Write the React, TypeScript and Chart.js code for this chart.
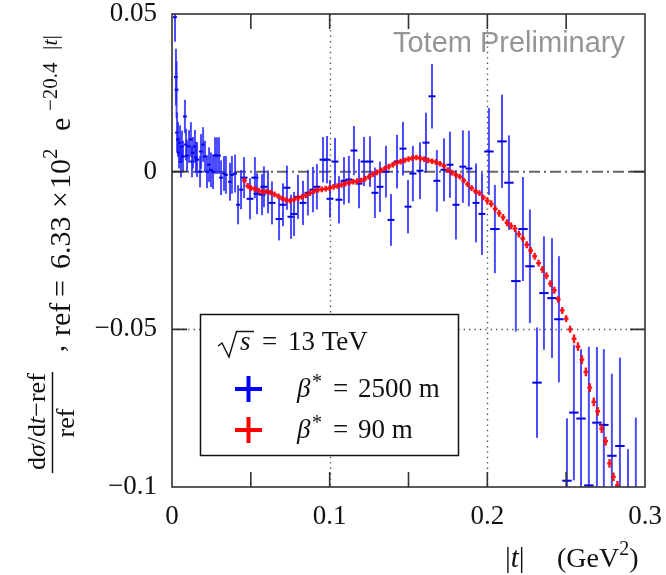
import React, { useEffect, useRef } from 'react';
import { Chart, registerables } from 'chart.js';
Chart.register(...registerables);

// ---- data: beta* = 2500 m (blue) ----
const blueT = [
  0.0019, 0.0025, 0.0029, 0.0032, 0.0038, 0.0044, 0.0051, 0.0057, 0.0063, 0.0070,
  0.0082, 0.0089, 0.0095, 0.0108, 0.0120, 0.0127, 0.0133, 0.0146, 0.0152, 0.0159,
  0.0178, 0.0184, 0.0197, 0.0209, 0.0222, 0.0235, 0.0247, 0.0260, 0.0273, 0.0285,
  0.0298, 0.0311, 0.0330, 0.0342, 0.0368, 0.0380, 0.0400, 0.0419, 0.0438, 0.0457,
  0.0495, 0.0526, 0.0539, 0.0571, 0.0583, 0.0609, 0.0634, 0.0679, 0.0704, 0.0729,
  0.0755, 0.0774, 0.0799, 0.0831, 0.0862, 0.0894, 0.0919, 0.0958, 0.0983, 0.1002,
  0.1034, 0.1059, 0.1091, 0.1122, 0.1154, 0.1186, 0.1218, 0.1256, 0.1287, 0.1319,
  0.1357, 0.1389, 0.1427, 0.1465, 0.1497, 0.1528, 0.1573, 0.1611, 0.1649, 0.1680,
  0.1725, 0.1763, 0.1801, 0.1845, 0.1883, 0.1928, 0.1966, 0.2010, 0.2048, 0.2093,
  0.2137, 0.2181, 0.2226, 0.2270, 0.2315, 0.2359, 0.2410, 0.2454, 0.2505, 0.2549,
  0.2594, 0.2644, 0.2695, 0.2739, 0.2790, 0.2841, 0.2892, 0.2942,
];
const blueV = [
  0.049, 0.030, 0.026, 0.0124, 0.0102, 0.006, 0.0092, 0.0032, 0.008, 0.0048,
  0.0175, 0.0086, 0.0051, 0.008, 0.0102, 0.0032, 0.006, 0.008, 0.0045, 0.0038,
  0.0, 0.0064, 0.0086, 0.0048, 0.0, 0.0022, 0.0006, 0.0, 0.0051, 0.0051,
  0.0051, -0.0019, -0.0006, -0.001, -0.0032, -0.001, -0.0006, -0.0105, -0.0057, -0.0019,
  -0.0086, -0.0019, -0.007, -0.0073, -0.0048, -0.0064, -0.0099, -0.015, -0.0105, -0.0051,
  -0.0143, -0.0134, -0.008, -0.0099, -0.0067, -0.0057, -0.0048, 0.0038, 0.0038, -0.0086,
  0.0032, -0.0089, -0.0029, -0.0025, 0.0067, -0.0038, 0.0032, 0.0032, -0.0067, -0.0048,
  0.0, -0.0153, 0.0032, 0.0073, -0.0111, -0.0006, 0.0003, 0.0092, 0.0239, -0.0029,
  0.0006, 0.0022, -0.0105, 0.0016, 0.001, -0.0099, -0.0134, 0.0064, -0.0182, 0.0096,
  -0.0035, -0.0347, -0.0182, -0.030, -0.0669, -0.0385, -0.0401, -0.0468, -0.098, -0.0764,
  -0.0783, -0.0995, -0.0796, -0.0803, -0.0901, -0.087, -0.118, -0.110,
];
const blueErr = [
  0.0078, 0.009, 0.009, 0.0064, 0.0055, 0.005, 0.0055, 0.005, 0.005, 0.005,
  0.0053, 0.005, 0.005, 0.0052, 0.0055, 0.005, 0.005, 0.0052, 0.005, 0.0055,
  0.005, 0.0055, 0.0055, 0.005, 0.0052, 0.0055, 0.0055, 0.0055, 0.0058, 0.0058,
  0.0058, 0.0055, 0.0055, 0.006, 0.006, 0.006, 0.006, 0.0062, 0.0062, 0.0065,
  0.0065, 0.0065, 0.0065, 0.0065, 0.0065, 0.0068, 0.0068, 0.0068, 0.0068, 0.007,
  0.007, 0.007, 0.007, 0.007, 0.0072, 0.0072, 0.0072, 0.0072, 0.0075, 0.006,
  0.0075, 0.0075, 0.0075, 0.0075, 0.0078, 0.0078, 0.0078, 0.008, 0.008, 0.008,
  0.0082, 0.0082, 0.0085, 0.0085, 0.0085, 0.0088, 0.009, 0.0095, 0.0102, 0.0098,
  0.010, 0.0105, 0.011, 0.0115, 0.012, 0.0125, 0.013, 0.0138, 0.014, 0.0148,
  0.015, 0.016, 0.0165, 0.018, 0.0175, 0.018, 0.019, 0.020, 0.0198, 0.0215,
  0.022, 0.044, 0.024, 0.024, 0.026, 0.028, 0.030, 0.032,
];
const blueTErr = [
  0.0012, 0.0012, 0.0012, 0.0012, 0.0012, 0.0012, 0.0012, 0.0012, 0.0012, 0.0012,
  0.0012, 0.0012, 0.0012, 0.0012, 0.0012, 0.0012, 0.0012, 0.0012, 0.0012, 0.0012,
  0.0012, 0.0012, 0.0012, 0.0012, 0.0012, 0.0012, 0.0012, 0.0012, 0.0012, 0.0012,
  0.0012, 0.0012, 0.0012, 0.0012, 0.0012, 0.0012, 0.0012, 0.0012, 0.0012, 0.0022,
  0.0022, 0.0022, 0.0022, 0.0022, 0.0022, 0.0022, 0.0022, 0.0022, 0.0022, 0.0022,
  0.0022, 0.0022, 0.0022, 0.0022, 0.0022, 0.0022, 0.0022, 0.0022, 0.0022, 0.0022,
  0.0022, 0.0022, 0.0022, 0.0022, 0.0022, 0.0022, 0.0022, 0.0022, 0.0022, 0.0022,
  0.0022, 0.0022, 0.0022, 0.0022, 0.0022, 0.0022, 0.0022, 0.0022, 0.0022, 0.0022,
  0.0022, 0.0022, 0.0022, 0.0022, 0.0022, 0.0022, 0.0022, 0.003, 0.003, 0.003,
  0.003, 0.003, 0.003, 0.003, 0.003, 0.003, 0.003, 0.003, 0.003, 0.003,
  0.003, 0.003, 0.003, 0.003, 0.003, 0.003, 0.003, 0.003,
];

// ---- data: beta* = 90 m (red) ----
const redT = [
  0.0460, 0.0480, 0.0500, 0.0525, 0.0550, 0.0575, 0.0600, 0.0625, 0.0650, 0.0675,
  0.0700, 0.0725, 0.0750, 0.0775, 0.0800, 0.0825, 0.0850, 0.0875, 0.0900, 0.0925,
  0.0950, 0.0975, 0.1000, 0.1025, 0.1050, 0.1075, 0.1100, 0.1125, 0.1150, 0.1175,
  0.1200, 0.1225, 0.1250, 0.1275, 0.1300, 0.1325, 0.1350, 0.1375, 0.1400, 0.1425,
  0.1450, 0.1475, 0.1500, 0.1525, 0.1550, 0.1575, 0.1600, 0.1625, 0.1650, 0.1675,
  0.1700, 0.1725, 0.1750, 0.1775, 0.1800, 0.1825, 0.1850, 0.1875, 0.1900, 0.1925,
  0.1950, 0.1975, 0.2000, 0.2025, 0.2050, 0.2075, 0.2100, 0.2125, 0.2150, 0.2175,
  0.2200, 0.2225, 0.2250, 0.2275, 0.2300, 0.2325, 0.2350, 0.2375, 0.2400, 0.2425,
  0.2450, 0.2475, 0.2500, 0.2525, 0.2550, 0.2575, 0.2600, 0.2625, 0.2650, 0.2675,
  0.2700, 0.2725, 0.2750, 0.2775, 0.2800, 0.2825,
];
const redV = [
  -0.0028, -0.0045, -0.0052, -0.0055, -0.0060, -0.0064, -0.0063, -0.0066, -0.0072, -0.0078,
  -0.0085, -0.0090, -0.0092, -0.0088, -0.0084, -0.0080, -0.0075, -0.0068, -0.0062, -0.0058,
  -0.0056, -0.0054, -0.0052, -0.0048, -0.0046, -0.0042, -0.0038, -0.0035, -0.0032, -0.0030,
  -0.0028, -0.0022, -0.0016, -0.0008, -0.0002, 0.0004, 0.0010, 0.0016, 0.0022, 0.0028,
  0.0032, 0.0036, 0.0040, 0.0043, 0.0045, 0.0042, 0.0040, 0.0036, 0.0033, 0.0030,
  0.0025, 0.0018, 0.0005, -0.0003, -0.0010, -0.0016, -0.0028, -0.0040, -0.0052, -0.0062,
  -0.0068, -0.0082, -0.0092, -0.0102, -0.0118, -0.0132, -0.0145, -0.0162, -0.0172, -0.0180,
  -0.0198, -0.0212, -0.0232, -0.0250, -0.0268, -0.0290, -0.0310, -0.0330, -0.0355, -0.0376,
  -0.0405, -0.0440, -0.0466, -0.0500, -0.0530, -0.0555, -0.0596, -0.0635, -0.0685, -0.0730,
  -0.0760, -0.0815, -0.0855, -0.0925, -0.0968, -0.0995,
];
const redErr = [
  0.0009, 0.0009, 0.0009, 0.0009, 0.0009, 0.0009, 0.0009, 0.0009, 0.0009, 0.0009,
  0.0009, 0.0009, 0.0009, 0.0009, 0.0009, 0.0009, 0.0009, 0.0009, 0.0009, 0.0009,
  0.0009, 0.0009, 0.0009, 0.0009, 0.0009, 0.0009, 0.0009, 0.0009, 0.0009, 0.0009,
  0.0009, 0.0009, 0.0009, 0.0009, 0.0009, 0.0009, 0.0009, 0.0009, 0.0009, 0.0009,
  0.0009, 0.0009, 0.0009, 0.0009, 0.0009, 0.0009, 0.0009, 0.0009, 0.0009, 0.0009,
  0.0009, 0.0009, 0.0009, 0.0009, 0.0009, 0.0009, 0.0009, 0.0009, 0.0009, 0.0009,
  0.0009, 0.0009, 0.0011, 0.0011, 0.0011, 0.0011, 0.0011, 0.0011, 0.0011, 0.0011,
  0.0011, 0.0011, 0.0011, 0.0011, 0.0011, 0.0011, 0.0011, 0.0011, 0.0011, 0.0011,
  0.0011, 0.0011, 0.0011, 0.0011, 0.0014, 0.0014, 0.0014, 0.0014, 0.0014, 0.0014,
  0.0014, 0.0014, 0.0014, 0.0014, 0.0014, 0.0014,
];
const redTErr = 0.0015;

// ---- axes ----
const xTickValues = [0, 0.1, 0.2, 0.3];
const yTickValues = [-0.1, -0.05, 0, 0.05];
const xTickMarks = [0.05, 0.1, 0.15, 0.2, 0.25];
const yTickMarks = [-0.05, 0];
const xGridValues = [0.1, 0.2];
const yGridValues = [-0.05];
const yRefValue = 0;

const legendTitle = '13 TeV';
const blueLabel = '2500 m';
const redLabel = '90 m';
const watermark = 'Totem Preliminary';

const SERIF = '"Liberation Serif", "Times New Roman", serif';
const f = (s: number) => `${s}px ${SERIF}`;
const fi = (s: number) => `italic ${s}px ${SERIF}`;

const fmt = (v: number) => {
  const r = Math.round(v * 1000) / 1000;
  if (r === 0) return '0';
  return (r < 0 ? '\u2212' : '') + String(Math.abs(r));
};

type Run = [string, string, number?];
function drawRuns(ctx: CanvasRenderingContext2D, u: number, v: number, runs: Run[]) {
  for (const [t, font, dv] of runs) {
    ctx.font = font;
    ctx.fillText(t, u, v + (dv || 0));
    u += ctx.measureText(t).width;
  }
  return u;
}

const plugin = {
  id: 'totemDecor',
  beforeDatasetsDraw(chart: any) {
    const { ctx, chartArea: a, scales } = chart;
    const x = scales.x, y = scales.y;
    ctx.save();
    ctx.strokeStyle = '#555';
    ctx.lineWidth = 1.4;
    ctx.setLineDash([1.4, 4]);
    for (const v of xGridValues) {
      const px = Math.round(x.getPixelForValue(v)) + 0.5;
      ctx.beginPath(); ctx.moveTo(px, a.top); ctx.lineTo(px, a.bottom); ctx.stroke();
    }
    for (const v of yGridValues) {
      const py = Math.round(y.getPixelForValue(v)) + 0.5;
      ctx.beginPath(); ctx.moveTo(a.left, py); ctx.lineTo(a.right, py); ctx.stroke();
    }
    ctx.strokeStyle = '#666';
    ctx.lineWidth = 2;
    ctx.setLineDash([11, 4, 2, 4]);
    const p0 = y.getPixelForValue(yRefValue);
    ctx.beginPath(); ctx.moveTo(a.left, p0); ctx.lineTo(a.right, p0); ctx.stroke();
    ctx.restore();
  },
  afterDatasetsDraw(chart: any) {
    const { ctx, chartArea: a, scales } = chart;
    const x = scales.x, y = scales.y;
    ctx.save();
    ctx.beginPath();
    ctx.rect(a.left, a.top, a.right - a.left, a.bottom - a.top);
    ctx.clip();
    // blue error bars
    const bd = chart.data.datasets[0].data;
    ctx.lineWidth = 2;
    for (const p of bd) {
      const px = x.getPixelForValue(p.x);
      const py = y.getPixelForValue(p.y);
      ctx.strokeStyle = 'rgba(30,30,255,0.8)';
      ctx.beginPath();
      ctx.moveTo(px, y.getPixelForValue(p.y + p.ey));
      ctx.lineTo(px, y.getPixelForValue(p.y - p.ey));
      ctx.stroke();
      ctx.strokeStyle = '#0000e0';
      ctx.beginPath();
      ctx.moveTo(x.getPixelForValue(p.x - p.ex), py);
      ctx.lineTo(x.getPixelForValue(p.x + p.ex), py);
      ctx.stroke();
    }
    // red error bars
    const rd = chart.data.datasets[1].data;
    ctx.strokeStyle = 'rgba(255,0,0,0.92)';
    ctx.lineWidth = 2.4;
    for (const p of rd) {
      const px = x.getPixelForValue(p.x);
      const py = y.getPixelForValue(p.y);
      ctx.beginPath();
      ctx.moveTo(px, y.getPixelForValue(p.y + p.ey));
      ctx.lineTo(px, y.getPixelForValue(p.y - p.ey));
      ctx.moveTo(x.getPixelForValue(p.x - p.ex), py);
      ctx.lineTo(x.getPixelForValue(p.x + p.ex), py);
      ctx.stroke();
    }
    ctx.restore();

    // legend box
    ctx.save();
    ctx.fillStyle = '#fff';
    ctx.fillRect(200, 314, 258, 141);
    ctx.strokeStyle = '#111';
    ctx.lineWidth = 1.5;
    ctx.strokeRect(200.5, 314.5, 258, 141);
    ctx.fillStyle = '#111';
    ctx.textBaseline = 'alphabetic';
    ctx.textAlign = 'left';
    // radical sign for sqrt(s)
    ctx.lineWidth = 1.4;
    ctx.beginPath();
    ctx.moveTo(218, 346); ctx.lineTo(222, 343); ctx.lineTo(229, 357); ctx.lineTo(236.5, 331.5); ctx.lineTo(254, 331.5);
    ctx.stroke();
    ctx.font = fi(27);
    ctx.fillText('s', 240, 350);
    ctx.font = f(27);
    ctx.fillText('=', 262, 350);
    ctx.fillText(legendTitle, 288, 350);
    // crosses
    ctx.lineWidth = 4;
    ctx.strokeStyle = '#0000ff';
    ctx.beginPath(); ctx.moveTo(235, 389); ctx.lineTo(262, 389); ctx.moveTo(248.5, 376); ctx.lineTo(248.5, 402); ctx.stroke();
    ctx.strokeStyle = '#ff0000';
    ctx.beginPath(); ctx.moveTo(235, 430); ctx.lineTo(262, 430); ctx.moveTo(248.5, 417); ctx.lineTo(248.5, 443); ctx.stroke();
    for (const [label, base] of [[blueLabel, 397], [redLabel, 438]] as [string, number][]) {
      ctx.font = fi(27); ctx.fillText('\u03B2', 297, base);
      ctx.font = f(20); ctx.fillText('*', 312, base - 9);
      ctx.font = f(27); ctx.fillText('=', 333, base);
      ctx.fillText(label, 358, base);
    }
    ctx.restore();

    // frame and ticks
    ctx.save();
    ctx.strokeStyle = '#333';
    ctx.lineWidth = 1.6;
    ctx.strokeRect(a.left, a.top, a.right - a.left, a.bottom - a.top);
    const tl = 15;
    ctx.beginPath();
    for (const v of xTickMarks) {
      const px = x.getPixelForValue(v);
      ctx.moveTo(px, a.bottom); ctx.lineTo(px, a.bottom - tl);
      ctx.moveTo(px, a.top); ctx.lineTo(px, a.top + tl);
    }
    for (const v of yTickMarks) {
      const py = y.getPixelForValue(v);
      ctx.moveTo(a.left, py); ctx.lineTo(a.left + tl, py);
      ctx.moveTo(a.right, py); ctx.lineTo(a.right - tl, py);
    }
    ctx.stroke();
    ctx.restore();

    // watermark
    ctx.save();
    ctx.fillStyle = '#959595';
    ctx.font = '29px "Liberation Sans", Arial, sans-serif';
    ctx.textAlign = 'right';
    ctx.textBaseline = 'alphabetic';
    ctx.fillText(watermark, 625, 52);
    ctx.restore();

    // x axis title
    ctx.save();
    ctx.fillStyle = '#111';
    ctx.textAlign = 'left';
    ctx.textBaseline = 'alphabetic';
    drawRuns(ctx, 505, 567, [['|', f(29)], ['t', fi(29)], ['|', f(29)]]);
    drawRuns(ctx, 557, 567, [['(GeV', f(28)], ['2', f(20), -12], [')', f(28)]]);
    ctx.restore();

    // y axis title (rotated); (u, v) -> screen (v, -u)
    ctx.save();
    ctx.fillStyle = '#111';
    ctx.strokeStyle = '#111';
    ctx.textAlign = 'left';
    ctx.textBaseline = 'alphabetic';
    ctx.rotate(-Math.PI / 2);
    drawRuns(ctx, -470, 45, [
      ['d', f(26)], ['\u03C3', fi(26)], ['/', f(26)], ['d', f(26)], ['t', fi(26)], ['\u2212', f(26)], ['ref', f(26)],
    ]);
    ctx.lineWidth = 1.5;
    ctx.beginPath(); ctx.moveTo(-473, 52.5); ctx.lineTo(-372, 52.5); ctx.stroke();
    ctx.textAlign = 'center';
    ctx.font = f(26);
    ctx.fillText('ref', -423, 74);
    ctx.textAlign = 'left';
    ctx.font = f(28);
    ctx.fillText(',', -352, 64);
    const base = 70;
    drawRuns(ctx, -336, base, [['ref', f(30)]]);
    drawRuns(ctx, -297, base, [['=', f(30)]]);
    drawRuns(ctx, -269, base, [['6.33', f(30)]]);
    drawRuns(ctx, -208, base, [['\u00D7', f(30)]]);
    drawRuns(ctx, -189, base, [['10', f(30)], ['2', f(21), -13]]);
    drawRuns(ctx, -131, base, [['e', f(30)]]);
    drawRuns(ctx, -111, base, [['\u221220.4', f(21), -13]]);
    drawRuns(ctx, -50, base, [['|', f(22), -13], ['t', fi(22), -13], ['|', f(22), -13]]);
    ctx.restore();
  },
};

export default function App() {
  const ref = useRef<HTMLCanvasElement>(null);
  useEffect(() => {
    const blue = blueT.map((t, i) => ({ x: t, y: blueV[i], ey: blueErr[i], ex: blueTErr[i] }));
    const red = redT.map((t, i) => ({ x: t, y: redV[i], ey: redErr[i], ex: redTErr }));
    const tickFont = { family: SERIF, size: 27, lineHeight: 1 };
    const chart = new Chart(ref.current as HTMLCanvasElement, {
      type: 'scatter',
      data: {
        datasets: [
          { label: '\u03B2* = 2500 m', data: blue, pointRadius: 0, showLine: false },
          { label: '\u03B2* = 90 m', data: red, pointRadius: 0, showLine: false },
        ],
      },
      options: {
        animation: false,
        responsive: false,
        devicePixelRatio: 1,
        layout: { padding: 0 },
        plugins: { legend: { display: false }, tooltip: { enabled: false } },
        scales: {
          x: {
            type: 'linear',
            min: 0,
            max: 0.3,
            afterBuildTicks: (s: any) => { s.ticks = xTickValues.map((v) => ({ value: v })); },
            afterFit: (s: any) => { s.height = 88; s.paddingRight = 21; s.paddingLeft = 0; },
            ticks: { callback: (v: any) => fmt(Number(v)), font: tickFont, color: '#111', padding: 16, maxRotation: 0, autoSkip: false },
            grid: { display: false, drawTicks: false },
            border: { display: false },
          },
          y: {
            type: 'linear',
            min: -0.1,
            max: 0.05,
            afterBuildTicks: (s: any) => { s.ticks = yTickValues.map((v) => ({ value: v })); },
            afterFit: (s: any) => { s.width = 172; s.paddingTop = 14; s.paddingBottom = 0; },
            ticks: { callback: (v: any) => fmt(Number(v)), font: tickFont, color: '#111', padding: 15, autoSkip: false },
            grid: { display: false, drawTicks: false },
            border: { display: false },
          },
        },
      },
      plugins: [plugin],
    } as any);
    return () => chart.destroy();
  }, []);
  return (
    <div style={{ position: 'absolute', left: 0, top: 0, width: 666, height: 575, background: '#fff' }}>
      <canvas ref={ref} width={666} height={575} style={{ display: 'block', width: 666, height: 575 }} />
    </div>
  );
}
